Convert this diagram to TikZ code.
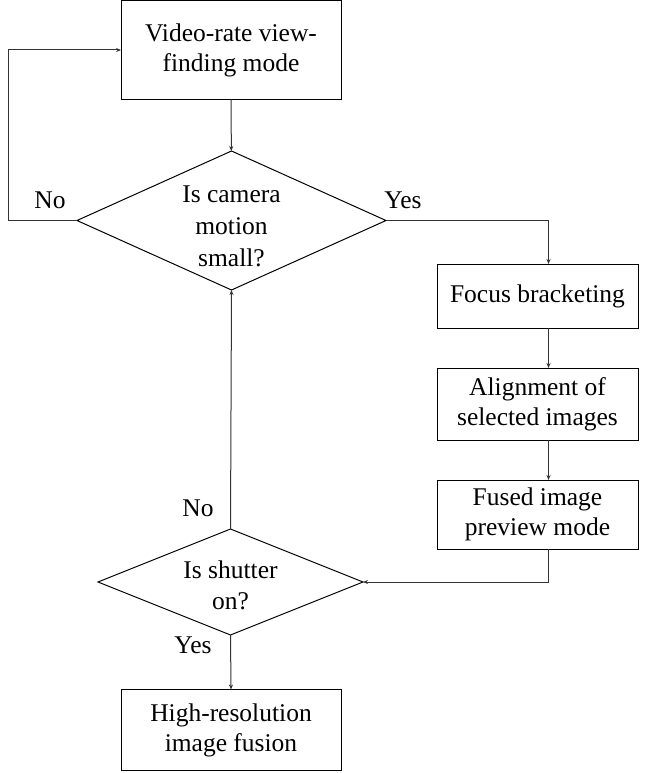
\documentclass[tikz,border=0pt]{standalone}
\usepackage{fontspec}
\setmainfont{Liberation Serif}
\usetikzlibrary{shapes.geometric,arrows.meta}

\tikzset{
  box/.style={draw=black, line width=1pt, align=center, inner sep=0pt, outer sep=0pt,
    font=\fontsize{25.5}{30}\selectfont},
  ask/.style={diamond, draw=black, line width=1pt, align=center, inner sep=0pt, outer sep=0pt,
    font=\fontsize{25.5}{32}\selectfont},
  lab/.style={font=\fontsize{25.5}{30}\selectfont},
  flow/.style={draw=black!80, line width=1pt, -{Stealth[length=5pt,width=4pt]}}
}

\begin{document}
\begin{tikzpicture}[x=1pt,y=-1pt]
\useasboundingbox (0,0) rectangle (654,773);
% process boxes
\node[box, minimum width=220pt, minimum height=99pt] (vf) at (231,50) {Video-rate view-\\finding mode};
\node[box, minimum width=201pt, minimum height=64pt] (fb) at (537.5,296) {Focus bracketing};
\node[box, minimum width=201pt, minimum height=72pt] (al) at (537.5,404) {Alignment of\\selected images};
\node[box, minimum width=201pt, minimum height=69pt] (fp) at (537.5,514.5) {Fused image\\preview mode};
\node[box, minimum width=220pt, minimum height=81pt] (hr) at (231,730) {High-resolution\\image fusion};
% decisions
\node[ask, minimum width=309pt, minimum height=139pt] (q1) at (231.5,220.5) {};
\node[ask, minimum width=265pt, minimum height=106pt] (q2) at (230.5,582) {};
\node[align=center, font=\fontsize{25.5}{32}\selectfont] (q1t) at (231.5,226) {Is camera\\motion\\small?};
\node[align=center, font=\fontsize{25.5}{31}\selectfont] (q2t) at (230.5,585) {Is shutter\\on?};
\coordinate (lp) at (8,220.5);
% connectors
\draw[flow] (vf) -- (q1);
\draw[flow] (q1.east) -| ([xshift=11pt]fb.north);
\draw[flow] ([xshift=11pt]fb.south) -- ([xshift=11pt]al.north);
\draw[flow] ([xshift=11pt]al.south) -- ([xshift=11pt]fp.north);
\draw[flow] ([xshift=11pt]fp.south) |- (q2.east);
\draw[flow] (q2.north) -- (q1.south);
\draw[flow] (q2.south) -- (hr.north);
\draw[flow] (q1.west) -- (lp) |- (vf.west);
% labels
\node[lab] (no1) at (50,200) {No};
\node[lab] (yes1) at (403,200) {Yes};
\node[lab] (no2) at (198,508) {No};
\node[lab] (yes2) at (193,645) {Yes};
\end{tikzpicture}
\end{document}
